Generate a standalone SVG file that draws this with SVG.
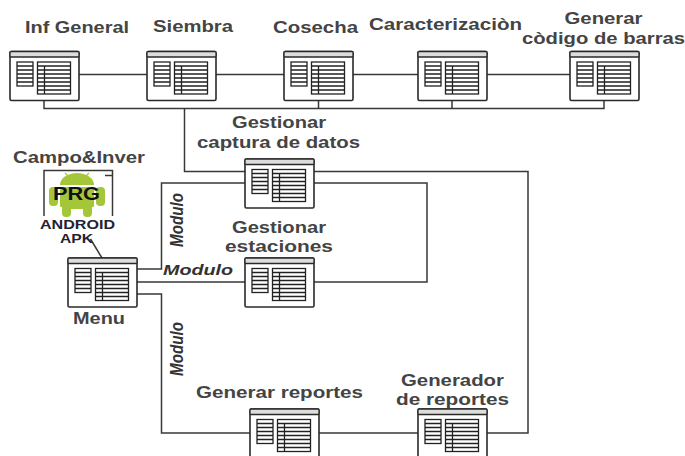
<svg xmlns="http://www.w3.org/2000/svg" width="685" height="456" viewBox="0 0 685 456">
<style>
text{font-family:"Liberation Sans",Arial,sans-serif;fill:#444;text-anchor:middle;font-size:16px;font-weight:bold}
.c{fill:none;stroke:#383838;stroke-width:1.500}
.f{fill:#fff;stroke:#2a2a2a;stroke-width:1.600}
.h{fill:#ddd;stroke:#2a2a2a;stroke-width:1.300}
.t{fill:none;stroke:#222;stroke-width:1.300}
.m{font-style:italic;font-size:15px;fill:#333}
.r{font-style:italic;font-size:18px;fill:#333}
.a{font-size:12.500px;fill:#223}
</style>
<defs>
<g id="win">
<rect class="f" x="0" y="0" width="69" height="49" rx="1.500"/>
<rect class="h" x="0" y="0" width="69" height="5.500" rx="1"/>
<rect class="t" x="7" y="10.500" width="16" height="24"/>
<path class="t" d="M7 14.500h16M7 18.500h16M7 22.500h16M7 26.500h16M7 30.500h16"/>
<rect class="t" x="27.500" y="10.500" width="33" height="32"/>
<path class="t" d="M27.500 14.500h33M27.500 18.500h33M27.500 22.500h33M27.500 26.500h33M27.500 30.500h33M27.500 34.500h33M27.500 38.500h33M34.500 14.500V42.500"/>
</g>
</defs>
<g id="connectors">
<path class="c" d="M79 74.500H147M216 74.500H284M353 74.500H418M487 74.500H570"/>
<path class="c" d="M44 100V108.500H604V100M318.500 100V108.500M452 100V108.500M184.500 108.500V171.500H245M314 171.500H528V433H487"/>
<path class="c" d="M137 269H161.500V183H245M314 183H427V282H314M137 282H245M137 294H161.500V433H250M319 433H418"/>
<path class="c" d="M90.500 239L102 258"/>
</g>
<g id="inf-general"><use href="#win" x="10" y="51.500"/><text x="77" y="33" textLength="104" lengthAdjust="spacingAndGlyphs">Inf General</text></g>
<g id="siembra"><use href="#win" x="147" y="51.500"/><text x="193" y="32" textLength="80" lengthAdjust="spacingAndGlyphs">Siembra</text></g>
<g id="cosecha"><use href="#win" x="284" y="51.500"/><text x="315.500" y="33" textLength="85" lengthAdjust="spacingAndGlyphs">Cosecha</text></g>
<g id="caracterizacion"><use href="#win" x="418" y="51.500"/><text x="445.500" y="30" textLength="153" lengthAdjust="spacingAndGlyphs">Caracterizaciòn</text></g>
<g id="codigo-barras"><use href="#win" x="570" y="51.500"/><text x="603.500" y="24" textLength="78" lengthAdjust="spacingAndGlyphs">Generar</text><text x="603.500" y="43.500" textLength="163" lengthAdjust="spacingAndGlyphs">còdigo de barras</text></g>
<g id="captura"><use href="#win" x="245" y="159"/><text x="279" y="128" textLength="94" lengthAdjust="spacingAndGlyphs">Gestionar</text><text x="278.500" y="148" textLength="163" lengthAdjust="spacingAndGlyphs">captura de datos</text></g>
<g id="estaciones"><use href="#win" x="245" y="258"/><text x="279" y="233" textLength="94" lengthAdjust="spacingAndGlyphs">Gestionar</text><text x="279" y="252" textLength="108" lengthAdjust="spacingAndGlyphs">estaciones</text></g>
<g id="menu"><use href="#win" x="68" y="258"/><text x="99" y="324" textLength="52" lengthAdjust="spacingAndGlyphs">Menu</text></g>
<g id="reportes"><use href="#win" x="250" y="409"/><text x="279.500" y="398" textLength="167" lengthAdjust="spacingAndGlyphs">Generar reportes</text></g>
<g id="generador"><use href="#win" x="418" y="409"/><text x="452.500" y="386" textLength="103" lengthAdjust="spacingAndGlyphs">Generador</text><text x="452.500" y="405" textLength="113" lengthAdjust="spacingAndGlyphs">de reportes</text></g>
<g id="apk">
<text x="79" y="163" textLength="132" lengthAdjust="spacingAndGlyphs">Campo&amp;Inver</text>
<path class="c" d="M44 216V170.500H112.500V216M44 175.500V170.500H50M105 175.500H112.500"/>
<g fill="#a4c639">
<path d="M60 185a17 12 0 0 1 34 0z"/>
<rect x="60" y="187" width="34" height="20" rx="1"/>
<rect x="49" y="187" width="9" height="19" rx="4"/>
<rect x="96" y="187" width="9" height="19" rx="4"/>
<rect x="62" y="205" width="30" height="4" rx="2"/>
<rect x="62" y="205" width="9" height="12" rx="4"/>
<rect x="83" y="205" width="9" height="12" rx="4"/>
</g>
<path d="M65 173l4 4M89 173l-4 4" stroke="#a4c639" stroke-width="1.200" fill="none"/>
<text x="76.500" y="200" textLength="47" lengthAdjust="spacingAndGlyphs" style="font-size:18px;fill:#111">PRG</text>
<text class="a" x="77.500" y="229" textLength="75" lengthAdjust="spacingAndGlyphs">ANDROID</text>
<text class="a" x="76.500" y="243" textLength="33" lengthAdjust="spacingAndGlyphs">APK</text>
</g>
<g id="labels">
<text class="r" transform="translate(183 220) rotate(-90)" textLength="54" lengthAdjust="spacingAndGlyphs">Modulo</text>
<text class="m" x="198" y="275" textLength="70" lengthAdjust="spacingAndGlyphs">Modulo</text>
<text class="r" transform="translate(183 349) rotate(-90)" textLength="54" lengthAdjust="spacingAndGlyphs">Modulo</text>
</g>
</svg>
